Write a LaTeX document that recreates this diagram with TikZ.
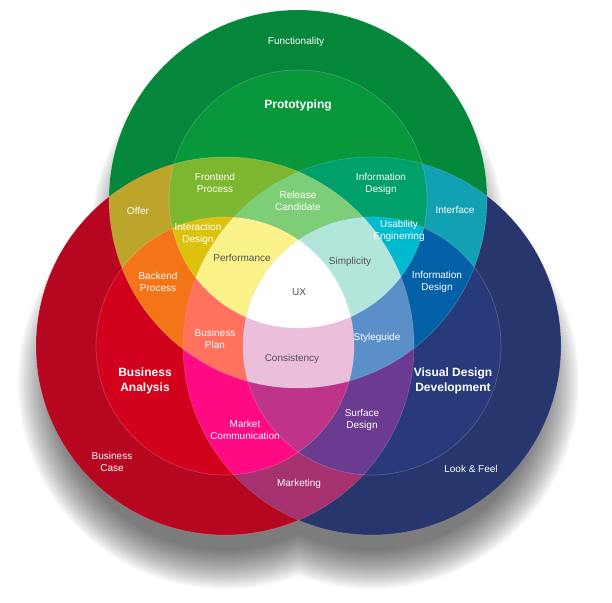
\documentclass[tikz,border=0pt]{standalone}
\usepackage{fontspec}
\setmainfont{Liberation Sans}
\usetikzlibrary{calc}

\definecolor{cFunc}{HTML}{04863B}
\definecolor{cProto}{HTML}{08983B}
\definecolor{cCase}{HTML}{B7061F}
\definecolor{cAnalysis}{HTML}{D3021C}
\definecolor{cLook}{HTML}{27366C}
\definecolor{cVisual}{HTML}{283A7A}
\definecolor{cOffer}{HTML}{BDA42A}
\definecolor{cInterface}{HTML}{12A1B3}
\definecolor{cMarketing}{HTML}{A5316F}
\definecolor{cFrontend}{HTML}{7DB72F}
\definecolor{cBackend}{HTML}{F47418}
\definecolor{cInfoTop}{HTML}{00A06A}
\definecolor{cInfoRight}{HTML}{0461A8}
\definecolor{cMarketCom}{HTML}{FF0A82}
\definecolor{cSurface}{HTML}{6B3A91}
\definecolor{cInteraction}{HTML}{DCC20C}
\definecolor{cUsability}{HTML}{00BAD0}
\definecolor{cMagenta}{HTML}{C0338A}
\definecolor{cRelease}{HTML}{7ECE78}
\definecolor{cBizPlan}{HTML}{FF725E}
\definecolor{cStyle}{HTML}{5A8FC9}
\definecolor{cPerf}{HTML}{FBF28A}
\definecolor{cSimple}{HTML}{B2E6DA}
\definecolor{cConsist}{HTML}{EBBFDC}

% colour of one region: #2 #3 #4 are the clip radii round G, R, B (0 = no clip)
\newcommand\regionfill[4]{%
  \begin{scope}
    \ifdim#2pt>0pt \clip (G) circle[radius=#2];\fi
    \ifdim#3pt>0pt \clip (R) circle[radius=#3];\fi
    \ifdim#4pt>0pt \clip (B) circle[radius=#4];\fi
    \fill[#1] (0,0) rectangle (612,-602);
  \end{scope}}

\begin{document}
\begin{tikzpicture}[x=1pt,y=1pt,
    lbl/.style={text=white, font=\fontsize{10}{12.5}\selectfont, align=center, inner sep=0pt},
    dark/.style={lbl, text=black!68},
    big/.style={lbl, font=\fontsize{12}{14.5}\selectfont\bfseries}]
  \useasboundingbox (0,0) rectangle (612,-602);

  \coordinate (G) at (298,-199);
  \coordinate (R) at (225,-346);
  \coordinate (B) at (372,-346);
  \def\radL{189}
  \def\radM{129}

  % soft shadow
  \foreach \k in {0,...,19}
    \fill[black, opacity=0.034]
      ($(G)+(0,-36)$) circle[radius=\radL+18-2*\k]
      ($(R)+(0,-36)$) circle[radius=\radL+18-2*\k]
      ($(B)+(0,-36)$) circle[radius=\radL+18-2*\k];

  % one circle each
  \regionfill{cFunc}{\radL}{0}{0}
  \regionfill{cCase}{0}{\radL}{0}
  \regionfill{cLook}{0}{0}{\radL}
  % two circles
  \regionfill{cProto}{\radM}{0}{0}
  \regionfill{cAnalysis}{0}{\radM}{0}
  \regionfill{cVisual}{0}{0}{\radM}
  \regionfill{cOffer}{\radL}{\radL}{0}
  \regionfill{cInterface}{\radL}{0}{\radL}
  \regionfill{cMarketing}{0}{\radL}{\radL}
  % three
  \regionfill{cFrontend}{\radM}{\radL}{0}
  \regionfill{cBackend}{\radL}{\radM}{0}
  \regionfill{cInfoTop}{\radM}{0}{\radL}
  \regionfill{cInfoRight}{\radL}{0}{\radM}
  \regionfill{cMarketCom}{0}{\radM}{\radL}
  \regionfill{cSurface}{0}{\radL}{\radM}
  % four
  \regionfill{cInteraction}{\radM}{\radM}{0}
  \regionfill{cUsability}{\radM}{0}{\radM}
  \regionfill{cMagenta}{0}{\radM}{\radM}
  \regionfill{cRelease}{\radM}{\radL}{\radL}
  \regionfill{cBizPlan}{\radL}{\radM}{\radL}
  \regionfill{cStyle}{\radL}{\radL}{\radM}
  % five and six
  \regionfill{cPerf}{\radM}{\radM}{\radL}
  \regionfill{cSimple}{\radM}{\radL}{\radM}
  \regionfill{cConsist}{\radL}{\radM}{\radM}
  \regionfill{white}{\radM}{\radM}{\radM}

  % faint edges
  \foreach \c in {G,R,B} {
    \draw[white, opacity=0.15, line width=0.7] (\c) circle[radius=\radL];
    \draw[white, opacity=0.2, line width=0.7] (\c) circle[radius=\radM];
  }

  % labels
  \node[lbl] (functionality) at (296,-42) {Functionality};
  \node[big] (prototyping) at (298,-105) {Prototyping};
  \node[lbl] (frontend) at (215,-183) {Frontend\\Process};
  \node[lbl] (infotop) at (381,-184) {Information\\Design};
  \node[lbl] (offer) at (138,-211) {Offer};
  \node[lbl] (release) at (298,-201) {Release\\Candidate};
  \node[lbl] (interface) at (455,-210) {Interface};
  \node[lbl] (interaction) at (198,-234) {Interaction\\Design};
  \node[lbl] (usability) at (399,-231) {Usability\\Enginerring};
  \node[dark] (performance) at (242,-258) {Performance};
  \node[dark] (simplicity) at (350,-262) {Simplicity};
  \node[lbl] (backend) at (158,-282) {Backend\\Process};
  \node[lbl] (inforight) at (437,-282) {Information\\Design};
  \node[dark] (ux) at (299,-292) {UX};
  \node[lbl] (bizplan) at (215,-339) {Business\\Plan};
  \node[lbl] (styleguide) at (377,-338) {Styleguide};
  \node[dark] (consistency) at (292,-359) {Consistency};
  \node[big] (analysis) at (145,-381) {Business\\Analysis};
  \node[big] (visual) at (453,-381) {Visual Design\\Development};
  \node[lbl] (marketcom) at (245,-430) {Market\\Communication};
  \node[lbl] (surface) at (362,-420) {Surface\\Design};
  \node[lbl] (bizcase) at (112,-462) {Business\\Case};
  \node[lbl] (lookfeel) at (471,-469) {Look \& Feel};
  \node[lbl] (marketing) at (299,-484) {Marketing};
\end{tikzpicture}
\end{document}
